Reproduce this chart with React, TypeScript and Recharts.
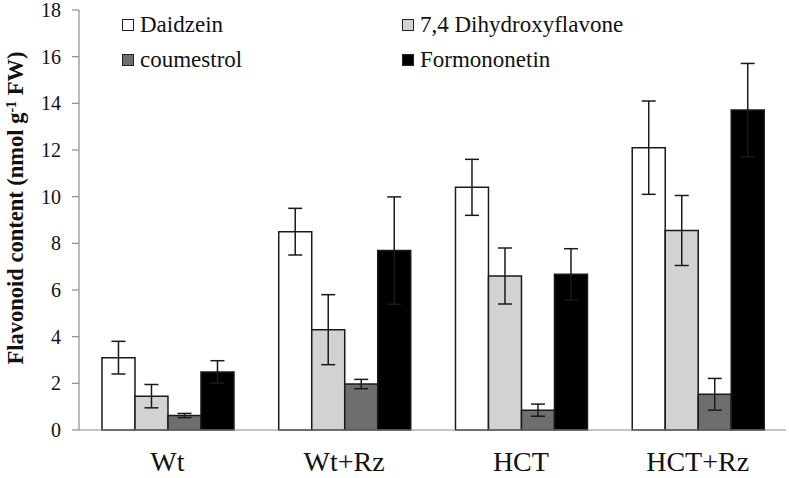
import React from 'react';
import { BarChart, Bar, XAxis, YAxis, ErrorBar } from 'recharts';

const categories = ['Wt', 'Wt+Rz', 'HCT', 'HCT+Rz'];
const daidzein = [3.1, 8.5, 10.4, 12.1];
const daidzeinErr = [0.7, 1.0, 1.2, 2.0];
const dihydroxy = [1.45, 4.3, 6.6, 8.55];
const dihydroxyErr = [0.5, 1.5, 1.2, 1.5];
const coumestrol = [0.62, 1.97, 0.85, 1.53];
const coumestrolErr = [0.09, 0.2, 0.26, 0.68];
const formononetin = [2.49, 7.69, 6.67, 13.71];
const formononetinErr = [0.48, 2.3, 1.1, 2.0];
const yTicks = [0, 2, 4, 6, 8, 10, 12, 14, 16, 18];
const boundaryTicks = [0, 1, 2, 3, 4];

const series = [
  { key: 'daidzein', name: 'Daidzein', fill: '#ffffff' },
  { key: 'dihydroxy', name: '7,4 Dihydroxyflavone', fill: '#d2d2d2' },
  { key: 'coumestrol', name: 'coumestrol', fill: '#6e6e6e' },
  { key: 'formononetin', name: 'Formononetin', fill: '#000000' },
];

const data = categories.map((name, i) => ({
  name,
  daidzein: daidzein[i],
  daidzeinErr: daidzeinErr[i],
  dihydroxy: dihydroxy[i],
  dihydroxyErr: dihydroxyErr[i],
  coumestrol: coumestrol[i],
  coumestrolErr: coumestrolErr[i],
  formononetin: formononetin[i],
  formononetinErr: formononetinErr[i],
}));

const font = '"Liberation Serif", "Times New Roman", serif';
const axisGray = '#8c8c8c';

// legend slots, two columns
const legendPos = [
  { left: 122, top: 12 },
  { left: 402, top: 12 },
  { left: 122, top: 47 },
  { left: 402, top: 47 },
];

const YLabel = () => (
  <text
    transform="translate(23, 208) rotate(-90)"
    textAnchor="middle"
    fontFamily={font}
    fontWeight="bold"
    fontSize={22.5}
    fill="#111"
  >
    Flavonoid content (nmol g
    <tspan baselineShift="super" fontSize={14}>-1</tspan>
    <tspan> FW)</tspan>
  </text>
);

export default function App() {
  return (
    <div style={{ position: 'absolute', left: 0, top: 0, width: 789, height: 478, background: '#fff' }}>
      <BarChart
        width={789}
        height={478}
        data={data}
        margin={{ top: 10, right: 3, bottom: 0, left: 0 }}
        barCategoryGap="13%"
        barGap={0}
      >
        <XAxis
          xAxisId="edge"
          type="number"
          domain={[0, 4]}
          ticks={boundaryTicks}
          allowDataOverflow
          height={0}
          tick={false}
          axisLine={false}
          tickSize={8}
          tickLine={{ stroke: axisGray, strokeWidth: 1.2 }}
        />
        <XAxis
          dataKey="name"
          height={48}
          tickLine={false}
          tickSize={0}
          tickMargin={21}
          axisLine={{ stroke: axisGray, strokeWidth: 1.2 }}
          tick={{ fontFamily: font, fontSize: 28, fill: '#111' }}
        />
        <YAxis
          width={79}
          domain={[0, 18]}
          ticks={yTicks}
          interval={0}
          tickSize={7}
          tickMargin={11}
          axisLine={{ stroke: axisGray, strokeWidth: 1.2 }}
          tickLine={{ stroke: axisGray, strokeWidth: 1.2 }}
          tick={{ fontFamily: font, fontSize: 20, fill: '#111' }}
          label={<YLabel />}
        />
        {series.map((s) => (
          <Bar
            key={s.key}
            dataKey={s.key}
            name={s.name}
            fill={s.fill}
            stroke="#1a1a1a"
            strokeWidth={1.5}
            isAnimationActive={false}
          >
            <ErrorBar dataKey={`${s.key}Err`} width={7} stroke="#1a1a1a" strokeWidth={1.5} direction="y" />
          </Bar>
        ))}
      </BarChart>
      {series.map((s, i) => (
        <div
          key={s.key}
          style={{
            position: 'absolute',
            left: legendPos[i].left,
            top: legendPos[i].top,
            height: 26,
            lineHeight: '26px',
            display: 'flex',
            alignItems: 'center',
            fontFamily: font,
            fontSize: 23,
            color: '#111',
            whiteSpace: 'nowrap',
          }}
        >
          <span
            style={{
              display: 'inline-block',
              width: 10,
              height: 10,
              background: s.fill,
              border: '1px solid #222',
              marginRight: 6,
            }}
          />
          {s.name}
        </div>
      ))}
    </div>
  );
}
